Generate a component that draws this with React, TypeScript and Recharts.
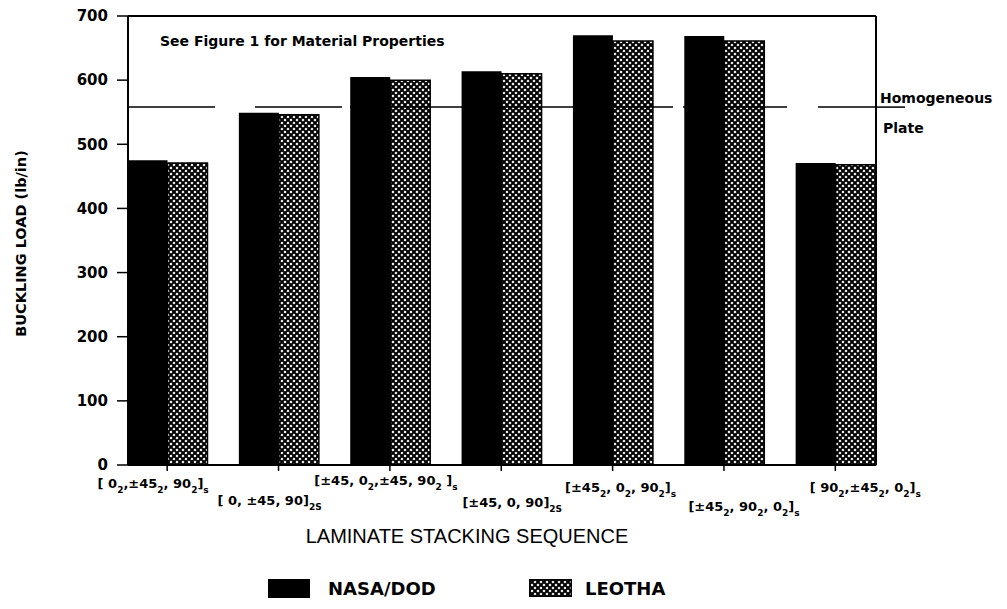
import { Bar, BarChart, Legend, ReferenceLine, XAxis, YAxis } from 'recharts'

// laminate stacking sequences, "_{..}" marks a subscript
const sequences = [
  '[ 0_{2},±45_{2}, 90_{2}]_{s}',
  '[ 0, ±45, 90]_{2S}',
  '[±45, 0_{2},±45, 90_{2} ]_{s}',
  '[±45, 0, 90]_{2S}',
  '[±45_{2}, 0_{2}, 90_{2}]_{s}',
  '[±45_{2}, 90_{2}, 0_{2}]_{s}',
  '[ 90_{2},±45_{2}, 0_{2}]_{s}',
]
const nasaDod = [475, 549, 605, 614, 670, 669, 471]
const leotha = [471, 546, 600, 610, 661, 661, 468]
const yTicks = [0, 100, 200, 300, 400, 500, 600, 700]
const homogeneousPlate = 558

const data = sequences.map((seq, i) => ({ seq, nasa: nasaDod[i], leotha: leotha[i] }))

const BOLD = { fontFamily: 'DejaVu Sans', fontWeight: 'bold' as const, fill: '#000' }

// the old labels are staggered and drift a bit to the right
const TICK_SHIFT: [number, number][] = [
  [-14, 15],
  [-9, 32],
  [-4, 12],
  [11, 34],
  [8, 19],
  [20, 38],
  [30, 19],
]

function SequenceTick(props: any) {
  const { x, y, payload } = props
  const idx = props.index ?? payload.index ?? 0
  const [dx, dy] = TICK_SHIFT[idx] ?? [0, 15]
  const parts = String(payload.value).split(/_\{([^}]*)\}/)
  return (
    <text x={x + dx} y={y + dy} textAnchor="middle" fontSize={13} {...BOLD}>
      {parts.map((p, i) =>
        i % 2 === 0 ? (
          <tspan key={i} dy={i > 0 ? -5 : 0}>
            {p}
          </tspan>
        ) : (
          <tspan key={i} dy={5} fontSize={9}>
            {p}
          </tspan>
        ),
      )}
    </text>
  )
}

function XTitle({ viewBox }: any) {
  if (!viewBox) return null
  return (
    <text
      x={viewBox.x + viewBox.width / 2 - 35}
      y={viewBox.y + 78}
      textAnchor="middle"
      fontFamily="Liberation Sans"
      fontSize={20}
      fill="#000"
    >
      LAMINATE STACKING SEQUENCE
    </text>
  )
}

function YTitle({ viewBox }: any) {
  if (!viewBox) return null
  const cx = 21
  const cy = viewBox.y + viewBox.height / 2 + 3
  return (
    <text
      x={cx}
      y={cy}
      transform={`rotate(-90 ${cx} ${cy})`}
      textAnchor="middle"
      dominantBaseline="central"
      fontSize={14.5}
      {...BOLD}
    >
      BUCKLING LOAD (lb/in)
    </text>
  )
}

function PlateLabel({ viewBox }: any) {
  if (!viewBox) return null
  const right = viewBox.x + viewBox.width
  const y = viewBox.y
  return (
    <g>
      <line x1={right} x2={right + 29} y1={y} y2={y} stroke="#000" strokeWidth={1.5} />
      <text x={right + 4} y={y - 4} fontSize={14} {...BOLD}>
        Homogeneous
      </text>
      <text x={right + 7} y={y + 26} fontSize={14} {...BOLD}>
        Plate
      </text>
    </g>
  )
}

function HatchDefs({ id }: { id: string }) {
  return (
    <defs>
      <pattern id={id} width={6} height={6} patternUnits="userSpaceOnUse">
        <rect width={6} height={6} fill="#fff" />
        <path d="M-1,-1 L7,7 M7,-1 L-1,7" stroke="#000" strokeWidth={2} />
      </pattern>
    </defs>
  )
}

function LegendBox() {
  return (
    <div style={{ display: 'flex', alignItems: 'center', height: 32 }}>
      <div style={{ display: 'flex', alignItems: 'center', width: 261 }}>
        <div style={{ width: 42, height: 19, background: '#000', marginRight: 18 }} />
        <span style={{ ...BOLD, fontSize: 18, color: '#000' }}>NASA/DOD</span>
      </div>
      <div style={{ display: 'flex', alignItems: 'center' }}>
        <svg width={43} height={18} style={{ marginRight: 13 }}>
          <HatchDefs id="xhatch-legend" />
          <rect x={0.75} y={0.75} width={41.5} height={16.5} fill="url(#xhatch-legend)" stroke="#000" strokeWidth={1.5} />
        </svg>
        <span style={{ ...BOLD, fontSize: 18, color: '#000' }}>LEOTHA</span>
      </div>
    </div>
  )
}

export default function App() {
  return (
    <div style={{ position: 'absolute', left: 0, top: 0, background: '#fff' }}>
      <BarChart
        width={1007}
        height={609}
        data={data}
        margin={{ top: 15, right: 130, bottom: 5, left: 0 }}
        barGap={0}
      >
        <HatchDefs id="xhatch" />
        <XAxis
          dataKey="seq"
          interval={0}
          height={107}
          padding={{ left: -16.5, right: -15 }}
          tickSize={6}
          tickLine={{ stroke: '#000', strokeWidth: 1.5 }}
          axisLine={{ stroke: '#000', strokeWidth: 2 }}
          tick={<SequenceTick />}
          label={<XTitle />}
        />
        <XAxis
          xAxisId="top"
          orientation="top"
          dataKey="seq"
          height={1}
          tick={false}
          tickLine={false}
          axisLine={{ stroke: '#000', strokeWidth: 2 }}
        />
        <YAxis
          width={128}
          domain={[0, 700]}
          ticks={yTicks}
          interval={0}
          tickSize={11}
          tickMargin={9}
          tickLine={{ stroke: '#000', strokeWidth: 1.5 }}
          axisLine={{ stroke: '#000', strokeWidth: 2 }}
          tick={{ ...BOLD, fontSize: 15 }}
          label={<YTitle />}
        />
        <YAxis
          yAxisId="right"
          orientation="right"
          width={1}
          domain={[0, 700]}
          tick={false}
          tickLine={false}
          axisLine={{ stroke: '#000', strokeWidth: 2 }}
        />
        <Bar dataKey="nasa" name="NASA/DOD" fill="#000" barSize={40} isAnimationActive={false} />
        <Bar
          dataKey="leotha"
          name="LEOTHA"
          fill="url(#xhatch)"
          stroke="#000"
          strokeWidth={1.5}
          barSize={40}
          isAnimationActive={false}
        />
        <ReferenceLine
          y={homogeneousPlate}
          stroke="#000"
          strokeWidth={1.5}
          strokeDasharray="87 40 87 8 323 10 104 31 87"
          label={<PlateLabel />}
        />
        <text x={160} y={46} fontSize={14} {...BOLD}>
          See Figure 1 for Material Properties
        </text>
        <Legend
          verticalAlign="bottom"
          wrapperStyle={{ left: 268, width: 440, bottom: 5 }}
          content={() => <LegendBox />}
        />
      </BarChart>
    </div>
  )
}
